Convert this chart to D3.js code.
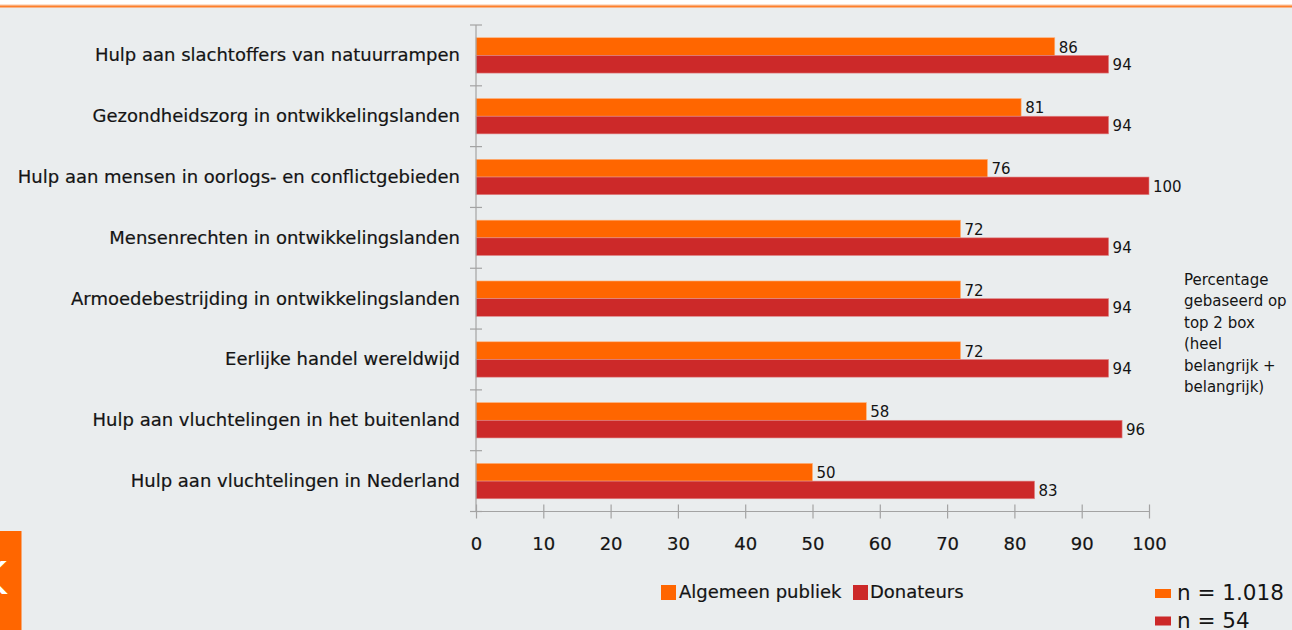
<!DOCTYPE html>
<html>
<head>
<meta charset="utf-8">
<script src="https://cdn.jsdelivr.net/npm/d3@7"></script>
<style>
  html, body { margin: 0; padding: 0; background: #eaedee; }
  svg { display: block; }
  text { font-family: "DejaVu Sans", Verdana, sans-serif; }
</style>
</head>
<body>
<svg id="chart" width="1292" height="630"></svg>
<script>
const categories = [
  "Hulp aan slachtoffers van natuurrampen",
  "Gezondheidszorg in ontwikkelingslanden",
  "Hulp aan mensen in oorlogs- en conflictgebieden",
  "Mensenrechten in ontwikkelingslanden",
  "Armoedebestrijding in ontwikkelingslanden",
  "Eerlijke handel wereldwijd",
  "Hulp aan vluchtelingen in het buitenland",
  "Hulp aan vluchtelingen in Nederland"
];
const seriesNames = ["Algemeen publiek", "Donateurs"];
const algemeenPubliek = [86, 81, 76, 72, 72, 72, 58, 50];
const donateurs = [94, 94, 100, 94, 94, 94, 96, 83];
const xTicks = [0, 10, 20, 30, 40, 50, 60, 70, 80, 90, 100];
const noteLines = ["Percentage", "gebaseerd op", "top 2 box", "(heel", "belangrijk +", "belangrijk)"];
const sampleLabels = ["n = 1.018", "n = 54"];

const colors = ["#ff6600", "#cc2929"];
const seriesValues = [algemeenPubliek, donateurs];

const svg = d3.select("#chart");

// page decoration
svg.append("rect").attr("x", 0).attr("y", 0).attr("width", 1292).attr("height", 5).attr("fill", "#ffffff");
svg.append("rect").attr("x", 0).attr("y", 4.5).attr("width", 1292).attr("height", 1).attr("fill", "#ffc49a");
svg.append("rect").attr("x", 0).attr("y", 5.5).attr("width", 1292).attr("height", 2).attr("fill", "#ff7f2a");

const x = d3.scaleLinear().domain([0, 100]).range([476, 1149]);
const y = d3.scaleBand().domain(categories).range([25, 511.5]).padding(0);
const ySub = d3.scaleBand().domain(seriesNames).range([0, y.bandwidth()]).paddingInner(0).paddingOuter(0.72);

const axisColor = "#a3a3a3";
const textColor = "#141414";

// bars
const groups = svg.append("g").selectAll("g")
  .data(categories)
  .join("g")
  .attr("transform", d => `translate(0,${y(d)})`);

seriesNames.forEach((s, si) => {
  groups.append("rect")
    .attr("x", x(0))
    .attr("y", ySub(s))
    .attr("width", (d, i) => x(seriesValues[si][i]) - x(0))
    .attr("height", ySub.bandwidth())
    .attr("fill", colors[si])
    .attr("stroke", si === 0 ? "#ffb27a" : "#e08a8a")
    .attr("stroke-width", 0.6);
  groups.append("text")
    .attr("x", (d, i) => x(seriesValues[si][i]) + 4)
    .attr("y", ySub(s) + ySub.bandwidth() / 2 + 1.5)
    .attr("dominant-baseline", "middle")
    .attr("font-family", "DejaVu Sans Condensed, DejaVu Sans, sans-serif")
    .attr("font-size", 15)
    .attr("fill", textColor)
    .text((d, i) => seriesValues[si][i]);
});

// y axis
svg.append("line").attr("x1", x(0)).attr("x2", x(0)).attr("y1", 25).attr("y2", 512)
  .attr("stroke", axisColor).attr("stroke-width", 1.2);
const boundaries = categories.map(c => y(c)).concat([y.range()[1]]);
svg.append("g").selectAll("line").data(boundaries).join("line")
  .attr("x1", x(0) - 6).attr("x2", x(0) + 6)
  .attr("y1", d => d).attr("y2", d => d)
  .attr("stroke", axisColor).attr("stroke-width", 1.2);

// category labels
svg.append("g").selectAll("text").data(categories).join("text")
  .attr("x", 460)
  .attr("y", d => y(d) + y.bandwidth() / 2 + 1)
  .attr("text-anchor", "end")
  .attr("dominant-baseline", "middle")
  .attr("font-size", 18)
  .attr("fill", textColor)
  .attr("stroke", textColor)
  .attr("stroke-width", 0.2)
  .text(d => d);

// x axis
const xAxisY = 511.5;
const xAxis = d3.axisBottom(x).tickValues(xTicks).tickSize(0).tickPadding(0).tickFormat(d3.format("d"));
const xg = svg.append("g").attr("transform", `translate(0,${xAxisY})`).call(xAxis);
xg.select(".domain").attr("stroke", axisColor).attr("stroke-width", 1.2).attr("d", `M${x(0) - 6},0H${x(100)}`);
xg.selectAll(".tick line").remove();
xg.selectAll(".tick").append("line")
  .attr("y1", -7).attr("y2", 7)
  .attr("stroke", axisColor).attr("stroke-width", 1.2);
xg.selectAll(".tick text")
  .attr("y", 33)
  .attr("dy", null)
  .attr("dominant-baseline", "middle")
  .attr("font-size", 18)
  .attr("font-family", "DejaVu Sans, Verdana, sans-serif")
  .attr("fill", textColor)
  .attr("stroke", textColor)
  .attr("stroke-width", 0.2);

// bottom legend
const legendItems = [
  { name: seriesNames[0], color: colors[0], sx: 661, tx: 679 },
  { name: seriesNames[1], color: colors[1], sx: 853, tx: 870 }
];
const lg = svg.append("g");
lg.selectAll("rect").data(legendItems).join("rect")
  .attr("x", d => d.sx).attr("y", 585).attr("width", 15).attr("height", 15)
  .attr("fill", d => d.color);
lg.selectAll("text").data(legendItems).join("text")
  .attr("x", d => d.tx).attr("y", 593)
  .attr("dominant-baseline", "middle")
  .attr("font-size", 18)
  .attr("fill", textColor)
  .attr("stroke", textColor)
  .attr("stroke-width", 0.2)
  .text(d => d.name);

// note text
svg.append("g").selectAll("text").data(noteLines).join("text")
  .attr("x", 1184)
  .attr("y", (d, i) => 280 + i * 21.5)
  .attr("dominant-baseline", "middle")
  .attr("font-size", 15)
  .attr("fill", textColor)
  .text(d => d);

// sample sizes legend
const ng = svg.append("g");
ng.selectAll("rect").data(sampleLabels).join("rect")
  .attr("x", 1155).attr("y", (d, i) => 589 + i * 27.5)
  .attr("width", 16).attr("height", 9)
  .attr("fill", (d, i) => colors[i]);
ng.selectAll("text").data(sampleLabels).join("text")
  .attr("x", 1177).attr("y", (d, i) => 594 + i * 27.5)
  .attr("dominant-baseline", "middle")
  .attr("font-size", 21.5)
  .attr("fill", textColor)
  .text(d => d);

// left orange tab
svg.append("rect").attr("x", 0).attr("y", 531).attr("width", 21.5).attr("height", 99).attr("fill", "#ff6600");
svg.append("text").attr("x", -22).attr("y", 594)
  .attr("font-size", 44).attr("fill", "#ffffff").text("K");
</script>
</body>
</html>
